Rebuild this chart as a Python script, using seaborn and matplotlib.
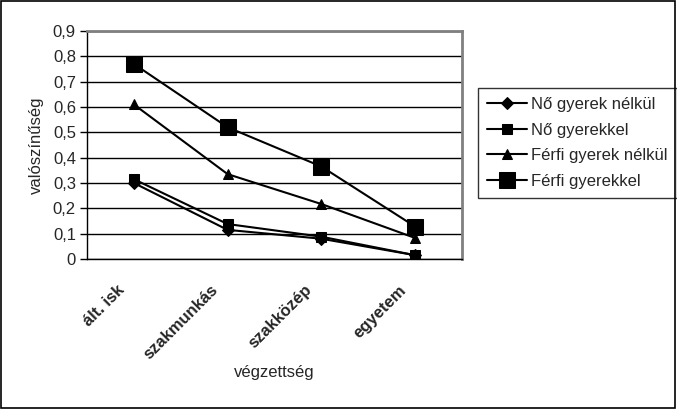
import pandas as pd
import seaborn as sns
import matplotlib.pyplot as plt
from matplotlib.patches import Rectangle
from matplotlib.transforms import ScaledTranslation

# --- adatok ---
vegzettseg = ['ált. isk', 'szakmunkás', 'szakközép', 'egyetem']
no_gyerek_nelkul = [0.30, 0.115, 0.08, 0.015]
no_gyerekkel = [0.315, 0.138, 0.088, 0.015]
ferfi_gyerek_nelkul = [0.61, 0.335, 0.217, 0.083]
ferfi_gyerekkel = [0.77, 0.52, 0.365, 0.128]

sorozatok = ['Nő gyerek nélkül', 'Nő gyerekkel', 'Férfi gyerek nélkül', 'Férfi gyerekkel']
ertekek = [no_gyerek_nelkul, no_gyerekkel, ferfi_gyerek_nelkul, ferfi_gyerekkel]
jelolok = ['D', 's', '^', 's']
meretek = [6, 7, 7, 11]

sns.set_style('white')
plt.rcParams['font.family'] = ['Liberation Sans', 'DejaVu Sans']
FS = 12

fig = plt.figure(figsize=(6.77, 4.09), dpi=100)
ax = fig.add_axes([87 / 677, 1 - 259 / 409, 375 / 677, 228 / 409])

for nev, vals, m, ms in zip(sorozatok, ertekek, jelolok, meretek):
    df = pd.DataFrame({'x': range(len(vegzettseg)), 'y': vals})
    sns.lineplot(data=df, x='x', y='y', ax=ax, color='black', linewidth=1.5,
                 marker=m, markersize=ms, markeredgecolor='black', label=nev)

ax.set_xlim(-0.5, 3.5)
ax.set_ylim(0, 0.9)
ax.set_yticks([i / 10 for i in range(10)])
ax.set_yticklabels(['0'] + [f'0,{i}' for i in range(1, 10)], fontsize=FS)
ax.yaxis.grid(True, color='black', linewidth=1)
ax.xaxis.grid(False)
ax.set_axisbelow(True)

ax.set_xticks(range(len(vegzettseg)))
ax.set_xticklabels(vegzettseg, rotation=45, ha='right', rotation_mode='anchor',
                   fontsize=FS, fontweight='bold')
ax.set_xticks([i - 0.5 for i in range(len(vegzettseg) + 1)], minor=True)
ax.tick_params(axis='x', which='major', length=0, pad=14)
ax.tick_params(axis='x', which='minor', length=5, width=1, color='black', direction='out')
ax.tick_params(axis='y', length=5, width=1, color='black', direction='out', left=True, pad=3)

# a feliratok kicsit balra tolva, mint az eredetin
eltolas = ScaledTranslation(-17 / 100, -4 / 100, fig.dpi_scale_trans)
for lbl in ax.get_xticklabels():
    lbl.set_transform(lbl.get_transform() + eltolas)

for s in ['left', 'bottom']:
    ax.spines[s].set_color('black')
    ax.spines[s].set_linewidth(1)
for s in ['top', 'right']:
    ax.spines[s].set_color('#808080')
    ax.spines[s].set_linewidth(2)

ax.set_xlabel('végzettség', fontsize=FS, labelpad=2)
ax.set_ylabel('valószínűség', fontsize=FS, labelpad=6)

leg = ax.legend(loc='upper left', bbox_to_anchor=(478 / 677, 1 - 88 / 409),
                bbox_transform=fig.transFigure, frameon=True, fancybox=False,
                edgecolor='black', fontsize=FS, handlelength=2.4,
                borderaxespad=0, labelspacing=0.63, handletextpad=0.25, borderpad=0.55)
leg.get_frame().set_linewidth(1)

fig.patches.append(Rectangle((0.002, 0.003), 0.995, 0.994, transform=fig.transFigure,
                             fill=False, edgecolor='black', linewidth=1.2))

fig.savefig('out.png', dpi=100)
